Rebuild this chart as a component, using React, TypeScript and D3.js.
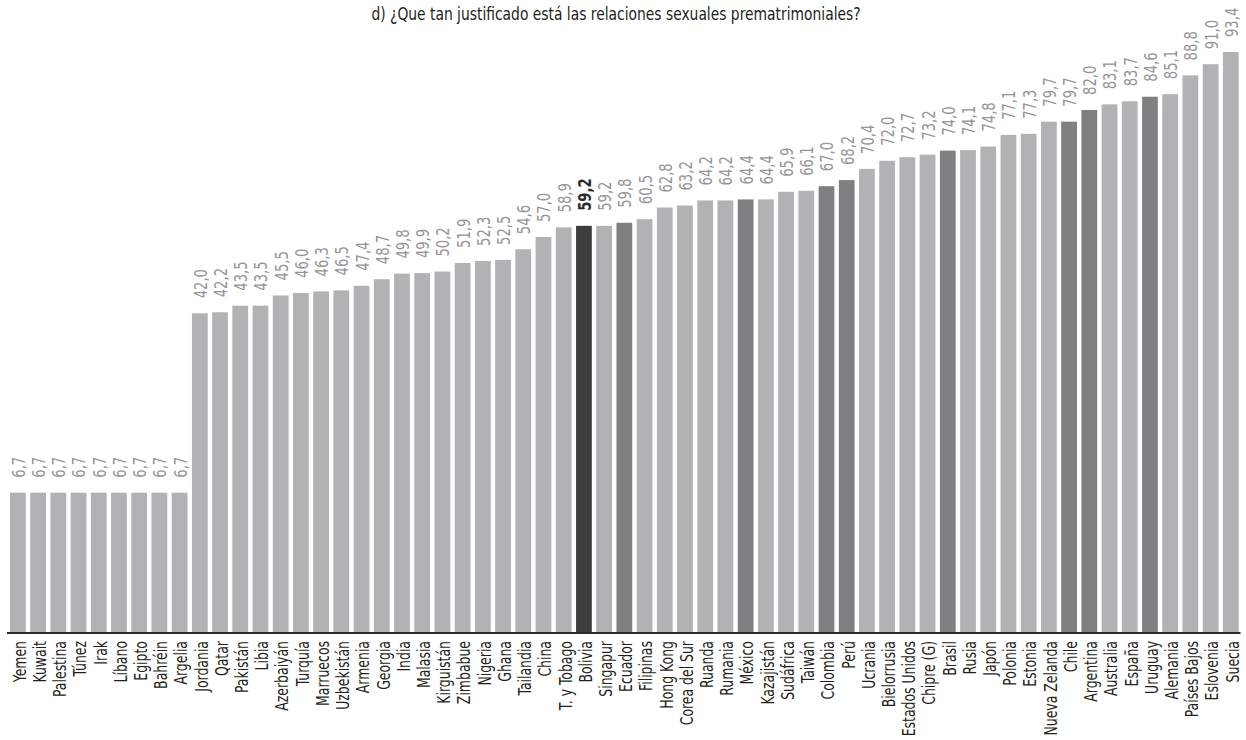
import React from "react";
import * as d3 from "d3";

const title = "d) ¿Que tan justificado está las relaciones sexuales prematrimoniales?";

const countries = [
  "Yemen", "Kuwait", "Palestina", "Túnez", "Irak", "Líbano", "Egipto", "Bahréin", "Argelia",
  "Jordania", "Qatar", "Pakistán", "Libia", "Azerbaiyán", "Turquía", "Marruecos", "Uzbekistán",
  "Armenia", "Georgia", "India", "Malasia", "Kirguistán", "Zimbabue", "Nigeria", "Ghana",
  "Tailandia", "China", "T. y Tobago", "Bolivia", "Singapur", "Ecuador", "Filipinas", "Hong Kong",
  "Corea del Sur", "Ruanda", "Rumania", "México", "Kazajistán", "Sudáfrica", "Taiwán", "Colombia",
  "Perú", "Ucrania", "Bielorrusia", "Estados Unidos", "Chipre (G)", "Brasil", "Rusia", "Japón",
  "Polonia", "Estonia", "Nueva Zelanda", "Chile", "Argentina", "Australia", "España", "Uruguay",
  "Alemania", "Países Bajos", "Eslovenia", "Suecia",
];

const values = [
  6.7, 6.7, 6.7, 6.7, 6.7, 6.7, 6.7, 6.7, 6.7,
  42.0, 42.2, 43.5, 43.5, 45.5, 46.0, 46.3, 46.5,
  47.4, 48.7, 49.8, 49.9, 50.2, 51.9, 52.3, 52.5,
  54.6, 57.0, 58.9, 59.2, 59.2, 59.8, 60.5, 62.8,
  63.2, 64.2, 64.2, 64.4, 64.4, 65.9, 66.1, 67.0,
  68.2, 70.4, 72.0, 72.7, 73.2, 74.0, 74.1, 74.8,
  77.1, 77.3, 79.7, 79.7, 82.0, 83.1, 83.7, 84.6,
  85.1, 88.8, 91.0, 93.4,
];

const focusCountry = ["Bolivia"];
const latinCountries = ["Ecuador", "México", "Colombia", "Perú", "Brasil", "Chile", "Argentina", "Uruguay"];

const W = 1246;
const H = 740;
const FONT = "'Liberation Sans Narrow', 'Arial Narrow', 'DejaVu Sans Condensed', sans-serif";

export default function App() {
  const data = countries.map((c, i) => ({ c, v: values[i] }));
  const x = d3
    .scaleBand<string>()
    .domain(countries)
    .range([10, 1238.7])
    .paddingInner(0.22)
    .paddingOuter(0);
  const y = d3.scaleLinear().domain([-20.9, 93.4]).range([633, 52]);
  const fmt = (v: number) => d3.format(".1f")(v).replace(".", ",");
  const color = (c: string) =>
    focusCountry.includes(c) ? "#3d3d3e" : latinCountries.includes(c) ? "#808083" : "#b1b2b4";

  return (
    <svg
      width={W}
      height={H}
      style={{ position: "absolute", left: 0, top: 0, background: "#fff" }}
      fontFamily={FONT}
    >
      <text
        transform="translate(616,20) scale(0.856,1)"
        textAnchor="middle"
        fontSize={18}
        fill="#231f20"
      >
        {title}
      </text>
      {data.map((d) => {
        const bx = x(d.c)!;
        const bw = x.bandwidth();
        const top = y(d.v);
        const cx = bx + bw / 2;
        const isFocus = focusCountry.includes(d.c);
        return (
          <g key={d.c}>
            <rect x={bx} y={top} width={bw} height={y(-20.9) - top} fill={color(d.c)} />
            <text
              transform={`translate(${cx + 1},${top - 15}) rotate(-90) scale(0.86,1)`}
              dy="0.35em"
              fontSize={17}
              fill={isFocus ? "#2a2a2a" : "#959597"}
              fontWeight={isFocus ? "bold" : "normal"}
            >
              {fmt(d.v)}
            </text>
            <text
              transform={`translate(${cx + 1.5},641) rotate(-90) scale(0.77,1)`}
              dy="0.35em"
              textAnchor="end"
              fontSize={18}
              fill="#231f20"
            >
              {d.c}
            </text>
          </g>
        );
      })}
      <line x1={7} x2={1240.5} y1={633} y2={633} stroke="#2b2b2b" strokeWidth={2} />
    </svg>
  );
}
